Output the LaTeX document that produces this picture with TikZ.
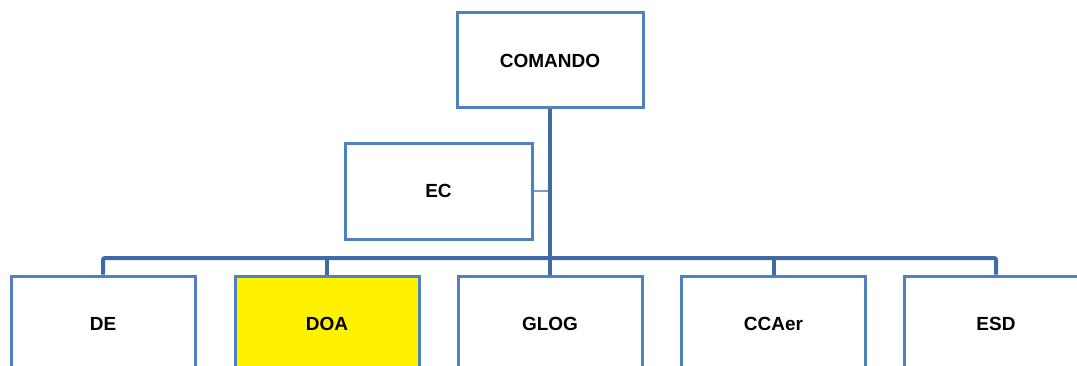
\documentclass[tikz,border=0pt]{standalone}
\usepackage{fontspec}
\setmainfont{Liberation Sans}
\definecolor{boxblue}{RGB}{79,129,189}
\definecolor{busblue}{RGB}{62,106,165}
\definecolor{linkblue}{RGB}{120,155,200}
\definecolor{doayellow}{RGB}{255,242,0}
\begin{document}
\begin{tikzpicture}[x=1pt,y=1pt,
  orgbox/.style={draw=boxblue,line width=3pt,fill=white,rectangle,
    minimum width=184pt,minimum height=95pt,inner sep=0pt,
    font=\fontsize{19}{22}\selectfont\bfseries},
  busline/.style={draw=busblue,line width=4pt,rounded corners=2pt},
  linkline/.style={draw=linkblue,line width=2pt}]
\useasboundingbox (0,0) rectangle (1077,365);
\clip (0,0) rectangle (1077,365);
\fill[white] (0,0) rectangle (1077,365);
% nodes
\node[orgbox,minimum width=186pt] (com) at (550,304.5) {COMANDO};
\node[orgbox,minimum width=187pt,minimum height=96pt] (ec) at (438.5,174) {EC};
\node[orgbox] (de) at (103,41.5) {DE};
\node[orgbox,fill=doayellow] (doa) at (327,41.5) {DOA};
\node[orgbox] (glog) at (550,41.5) {GLOG};
\node[orgbox] (ccaer) at (773.5,41.5) {CCAer};
\node[orgbox] (esd) at (996,41.5) {ESD};
\coordinate (bus) at (550,107);
% connectors
\draw[linkline] (ec.east) -- (ec.east -| com.south);
\draw[busline] (de.north) -- (de.north |- bus) -| (esd.north);
\draw[busline] (doa.north) -- (doa.north |- bus);
\draw[busline] (ccaer.north) -- (ccaer.north |- bus);
\draw[busline,rounded corners=0pt] (com.south) -- (glog.north);
\end{tikzpicture}
\end{document}
